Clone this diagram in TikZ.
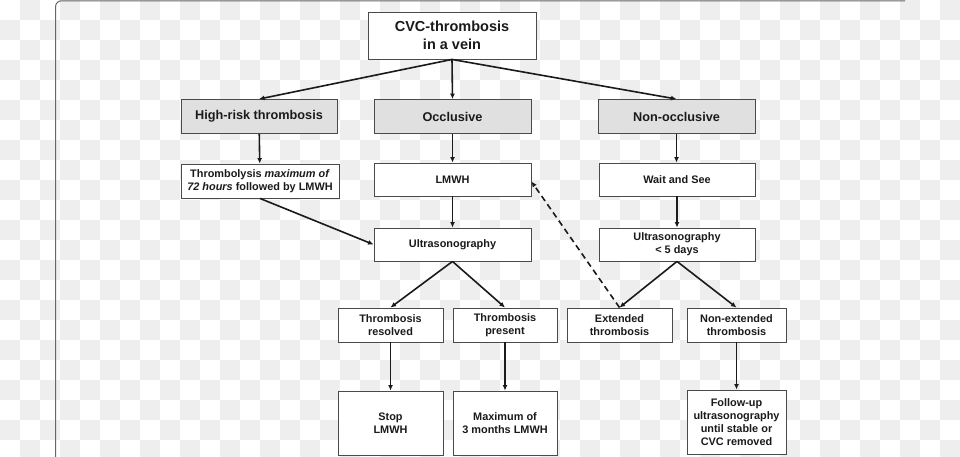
\documentclass[tikz,border=0pt]{standalone}
\usepackage{fontspec}
\setmainfont{Liberation Sans}
\usetikzlibrary{arrows.meta}
\definecolor{chk}{HTML}{EEEEEE}
\definecolor{framec}{HTML}{666666}
\definecolor{edgec}{HTML}{4A4A4A}
\definecolor{boxgray}{HTML}{E0E0E0}
\definecolor{ink}{HTML}{1A1A1A}
\begin{document}
\begin{tikzpicture}[x=1pt,y=-1pt,
  box/.style={draw=edgec, line width=0.9pt, fill=white, inner sep=0pt, align=center, text=ink,
    font=\bfseries\fontsize{10.9}{13}\selectfont},
  hdr/.style={box, fill=boxgray, minimum width=157pt, minimum height=34pt,
    font=\bfseries\fontsize{12.7}{15}\selectfont},
  mid/.style={box, minimum width=157pt, minimum height=34pt},
  small/.style={box, minimum width=105pt, minimum height=34pt},
  tall/.style={box, minimum width=105pt, minimum height=64pt},
  conn/.style={line width=1.6pt, draw=ink, -{Latex[length=5.5pt,width=5pt]}},
]
\clip (0,0) rectangle (960,457);
\fill[white] (0,0) rectangle (960,457);
\foreach \i in {0,...,47}{\foreach \j in {0,...,22}{%
  \pgfmathtruncatemacro\k{\i+\j}%
  \ifodd\k \fill[chk] (\i*20,\j*20) rectangle ++(20,20); \fi}}
\draw[framec, line width=1pt, rounded corners=6pt] (55.5,470) -- (55.5,0.8) -- (905,0.8);

\node[box, minimum width=168pt, minimum height=47pt,
  font=\bfseries\fontsize{14.5}{18}\selectfont] (top) at (452,35.5) {CVC-thrombosis\\in a vein};

\node[hdr, minimum width=156pt] (hr) at (259,116.5) {High-risk thrombosis};
\node[hdr] (occ) at (452.5,116.5) {Occlusive};
\node[hdr] (non) at (676.5,116.5) {Non-occlusive};

\node[mid, minimum width=158pt] (tl) at (260,181) {Thrombolysis \textit{maximum of}\\\textit{72 hours} followed by LMWH};
\node[mid, minimum height=33pt] (lmwh) at (452.5,179.5) {LMWH};
\node[mid, minimum height=33pt, minimum width=156pt] (wait) at (677,179.5) {Wait and See};

\node[mid, minimum height=33pt] (us) at (452.5,244.5) {Ultrasonography};
\node[mid, minimum height=33pt, minimum width=156pt] (us5) at (677,244.5) {Ultrasonography\\< 5 days};

\node[small] (res) at (390.5,325) {Thrombosis\\resolved};
\node[small, minimum width=104pt] (pres) at (505,325) {Thrombosis\\present};
\node[small] (ext) at (619.5,325) {Extended\\thrombosis};
\node[small, minimum width=99pt] (next) at (736.5,325) {Non-extended\\thrombosis};

\node[tall] (stop) at (390.5,423) {Stop\\LMWH};
\node[tall, minimum width=104pt] (max) at (505,423) {Maximum of\\3 months LMWH};
\node[tall, minimum width=99pt] (fol) at (736.5,422) {Follow-up\\ultrasonography\\until stable or\\CVC removed};

\draw[conn] (top.south) -- (hr.north);
\draw[conn] (top.south) -- (occ.north);
\draw[conn] (top.south) -- (non.north);
\draw[conn] (hr) -- (tl);
\draw[conn] (occ) -- (lmwh);
\draw[conn] (non.south) -- (wait.north -| non.south);
\draw[conn] (lmwh) -- (us);
\draw[conn] (wait) -- (us5);
\draw[conn] (tl.south) -- (us.west);
\draw[conn] (us.south) -- (res.north);
\draw[conn] (us.south) -- (pres.north);
\draw[conn] (us5.south) -- (ext.north);
\draw[conn] (us5.south) -- (next.north);
\draw[conn, dash pattern=on 6pt off 4pt] (ext.north) -- ([yshift=-2pt]lmwh.east);
\draw[conn] (res) -- (stop);
\draw[conn] (pres) -- (max);
\draw[conn] (next) -- (fol);
\end{tikzpicture}
\end{document}
